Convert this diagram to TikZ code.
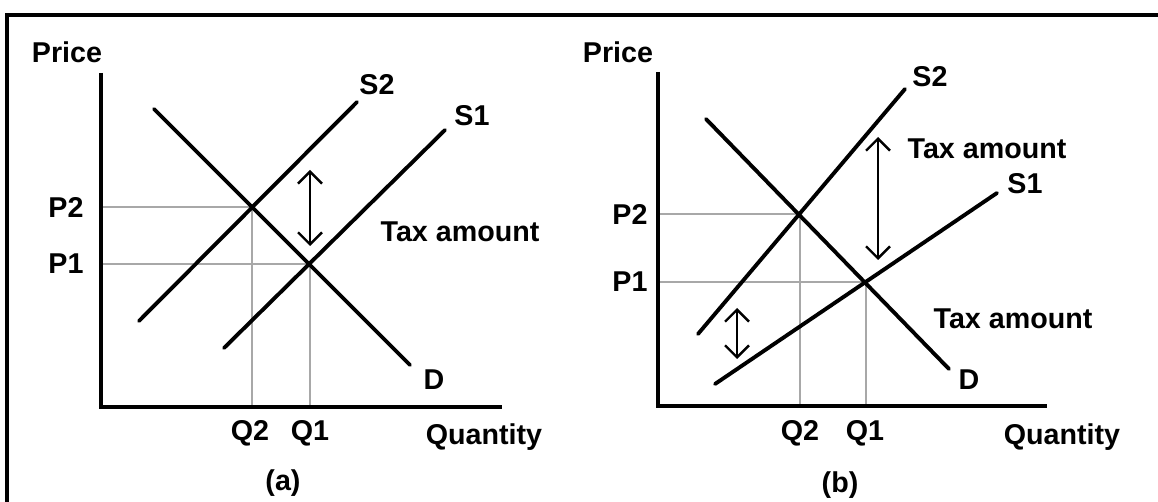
\documentclass[tikz,border=0pt]{standalone}
\usepackage{fontspec}
\setmainfont{Liberation Sans}
\usetikzlibrary{arrows.meta}
\definecolor{guidegray}{RGB}{168,168,168}
\begin{document}
\begin{tikzpicture}[x=0.75pt,y=-0.75pt,
  lbl/.style={font=\fontsize{21.5}{25}\selectfont\bfseries, inner sep=0pt},
  axis/.style={line width=2.3pt},
  frame/.style={line width=2.3pt},
  curve/.style={line width=2.9pt, line cap=round},
  guide/.style={line width=1.3pt, draw=guidegray},
  tax/.style={line width=1.8pt, {Straight Barb[length=9pt,width=18pt]}-{Straight Barb[length=9pt,width=18pt]}}
]
\useasboundingbox (0,0) rectangle (1158,502);
\fill[white] (0,0) rectangle (1158,502);
% outer frame
\coordinate (fTR) at (1158,15);
\coordinate (fTL) at (7,15);
\coordinate (fBL) at (7,502);
\draw[frame] (fTR) -- (fTL) -- (fBL);

% ---------------- Panel (a) ----------------
\coordinate (aO) at (101,407);
\coordinate (aYtop) at (101,73);
\coordinate (aXend) at (502,407);
\coordinate (aP2) at (101,207);
\coordinate (aP1) at (101,264);
\coordinate (aQ2) at (252,407);
\coordinate (aQ1) at (310,407);
\coordinate (aE2) at (252,207);
\coordinate (aE1) at (310,264);
\draw[guide] (aP2) -- (aE2) -- (aQ2);
\draw[guide] (aP1) -- (aE1) -- (aQ1);
\draw[axis] (aYtop) -- (aO) -- (aXend);
\coordinate (aDs) at (154,109);
\coordinate (aDe) at (410,365);
\coordinate (aS2s) at (139,321);
\coordinate (aS2e) at (357,102);
\coordinate (aS1s) at (224,348);
\coordinate (aS1e) at (445,130);
\draw[curve] (aDs) -- (aDe);
\draw[curve] (aS2s) -- (aS2e);
\draw[curve] (aS1s) -- (aS1e);
\coordinate (aTt) at (310,170);
\coordinate (aTb) at (310,246);
\draw[tax] (aTt) -- (aTb);
\node[lbl] (aPrice) at (67,52) {Price};
\node[lbl] (aP2l) at (66,207) {P2};
\node[lbl] (aP1l) at (66,264) {P1};
\node[lbl] (aQ2l) at (250,433) {Q2};
\node[lbl] (aQ1l) at (310,433) {Q1};
\node[lbl] (aQty) at (484,437) {Quantity};
\node[lbl] (aCap) at (283,483) {(a)};
\node[lbl] (aDl) at (434,380) {D};
\node[lbl] (aS2l) at (377,85) {S2};
\node[lbl] (aS1l) at (472,116) {S1};
\node[lbl] (aTax) at (460,232) {Tax amount};

% ---------------- Panel (b) ----------------
\coordinate (bO) at (658,406);
\coordinate (bYtop) at (658,72);
\coordinate (bXend) at (1047,406);
\coordinate (bP2) at (658,214);
\coordinate (bP1) at (658,282);
\coordinate (bQ2) at (800,406);
\coordinate (bQ1) at (866,406);
\coordinate (bE2) at (800,214);
\coordinate (bE1) at (866,282);
\draw[guide] (bP2) -- (bE2) -- (bQ2);
\draw[guide] (bP1) -- (bE1) -- (bQ1);
\draw[axis] (bYtop) -- (bO) -- (bXend);
\coordinate (bDs) at (706,119);
\coordinate (bDe) at (949,369);
\coordinate (bS2s) at (698,334);
\coordinate (bS2e) at (905,89);
\coordinate (bS1s) at (715,384);
\coordinate (bS1e) at (997,193);
\draw[curve] (bDs) -- (bDe);
\draw[curve] (bS2s) -- (bS2e);
\draw[curve] (bS1s) -- (bS1e);
\coordinate (bTt) at (878,137);
\coordinate (bTb) at (878,260);
\draw[tax] (bTt) -- (bTb);
\coordinate (bUt) at (737,308);
\coordinate (bUb) at (737,359);
\draw[tax] (bUt) -- (bUb);
\node[lbl] (bPrice) at (618,52) {Price};
\node[lbl] (bP2l) at (630,214) {P2};
\node[lbl] (bP1l) at (630,282) {P1};
\node[lbl] (bQ2l) at (800,433) {Q2};
\node[lbl] (bQ1l) at (865,433) {Q1};
\node[lbl] (bQty) at (1062,437) {Quantity};
\node[lbl] (bCap) at (840,485) {(b)};
\node[lbl] (bDl) at (969,380) {D};
\node[lbl] (bS2l) at (930,77) {S2};
\node[lbl] (bS1l) at (1025,184) {S1};
\node[lbl] (bTax1) at (987,149) {Tax amount};
\node[lbl] (bTax2) at (1013,319) {Tax amount};
\end{tikzpicture}
\end{document}
